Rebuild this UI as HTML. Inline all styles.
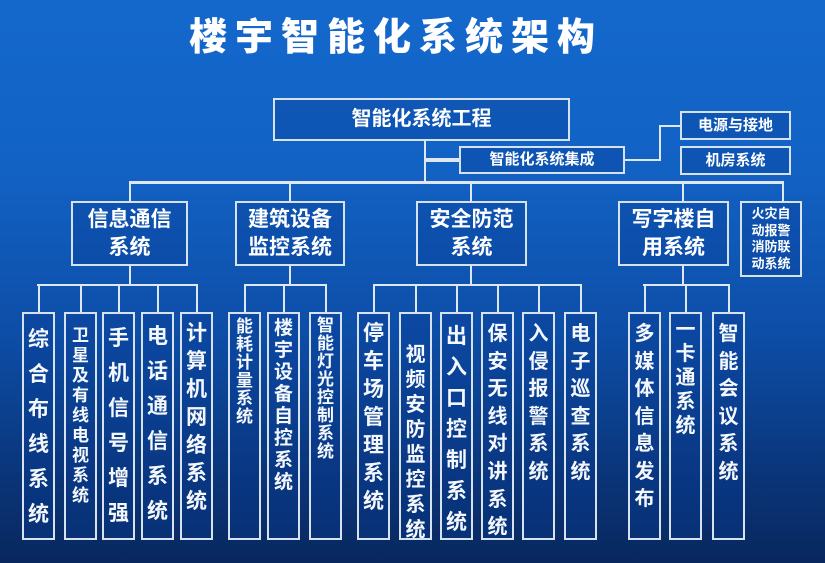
<!DOCTYPE html>
<html><head><meta charset="utf-8"><style>
body{margin:0;width:825px;height:563px;overflow:hidden;font-family:"Liberation Sans","Noto Sans CJK SC",sans-serif;}
#bg{position:absolute;left:0;top:0;width:825px;height:563px;background:linear-gradient(180deg,#1468cc 0%,#1262c4 30%,#0d4da6 60%,#0a3478 85%,#08285e 100%);}
.b{position:absolute;border:2px solid #d6e2ee;box-sizing:border-box;background:rgba(10,60,150,0.35);color:#fff;text-align:center;font-weight:bold;}
.l{position:absolute;background:#dfe8f2;}
.t{position:absolute;color:#f4f8fc;text-align:center;font-weight:bold;}
.title{position:absolute;left:186px;top:6px;width:420px;font-size:38px;font-weight:900;color:#fff;letter-spacing:8px;font-family:"Noto Sans CJK SC","Liberation Sans",sans-serif;text-align:center;}
</style></head><body>
<div id="bg"></div>
<div class="title">楼宇智能化系统架构</div>

<div class="b" style="left:273px;top:98px;width:297px;height:43px;font-size:20px;line-height:38px;">智能化系统工程</div>
<div class="b" style="left:459px;top:146px;width:166px;height:28px;font-size:15px;line-height:24px;">智能化系统集成</div>
<div class="b" style="left:680px;top:111px;width:111px;height:29px;font-size:15px;line-height:25px;">电源与接地</div>
<div class="b" style="left:680px;top:146px;width:111px;height:29px;font-size:15px;line-height:25px;">机房系统</div>

<div class="l" style="left:424px;top:141px;width:2px;height:42px;"></div>
<div class="l" style="left:424px;top:158px;width:35px;height:4px;"></div>
<div class="l" style="left:625px;top:159px;width:35px;height:2px;"></div>
<div class="l" style="left:659px;top:125px;width:2px;height:36px;"></div>
<div class="l" style="left:659px;top:125px;width:21px;height:2px;"></div>
<div class="l" style="left:129px;top:181px;width:655px;height:3px;"></div>
<div class="l" style="left:129px;top:181px;width:2px;height:20px;"></div>
<div class="l" style="left:289px;top:181px;width:2px;height:20px;"></div>
<div class="l" style="left:470px;top:181px;width:2px;height:20px;"></div>
<div class="l" style="left:682px;top:181px;width:2px;height:20px;"></div>
<div class="l" style="left:782px;top:181px;width:2px;height:20px;"></div>

<div class="b" style="left:71px;top:201px;width:117px;height:65px;font-size:21px;line-height:28px;padding-top:3px;">信息通信<br>系统</div>
<div class="b" style="left:235px;top:201px;width:110px;height:65px;font-size:21px;line-height:28px;padding-top:3px;">建筑设备<br>监控系统</div>
<div class="b" style="left:416px;top:201px;width:111px;height:65px;font-size:21px;line-height:28px;padding-top:3px;">安全防范<br>系统</div>
<div class="b" style="left:618px;top:201px;width:111px;height:65px;font-size:21px;line-height:28px;padding-top:3px;">写字楼自<br>用系统</div>
<div class="b" style="left:740px;top:201px;width:62px;height:76px;font-size:13px;line-height:16.5px;padding-top:3px;">火灾自<br>动报警<br>消防联<br>动系统</div>

<div class="l" style="left:129px;top:266px;width:2px;height:19px;"></div>
<div class="l" style="left:37px;top:284px;width:159px;height:2px;"></div>
<div class="l" style="left:289px;top:266px;width:2px;height:19px;"></div>
<div class="l" style="left:245px;top:284px;width:80px;height:2px;"></div>
<div class="l" style="left:470px;top:266px;width:2px;height:19px;"></div>
<div class="l" style="left:373px;top:284px;width:207px;height:2px;"></div>
<div class="l" style="left:682px;top:266px;width:2px;height:19px;"></div>
<div class="l" style="left:643px;top:284px;width:87px;height:2px;"></div>

<div id="leaves"></div>
<script>
var L=[
[22,"综合布线系统",340,35,21],
[64,"卫星及有线电视系统",336,20,17],
[102,"手机信号增强",339,35,21],
[141,"电话通信系统",337,35,21],
[180,"计算机网络系统",334,28,21],
[228,"能耗计量系统",327,18,17],
[267,"楼宇设备自控系统",329,22,19],
[309,"智能灯光控制系统",326,18,17],
[357,"停车场管理系统",334,28,21],
[399,"视频安防监控系统",355,25,20],
[440,"出入口控制系统",337,31,21],
[481,"保安无线对讲系统",334,27.6,20],
[522,"入侵报警系统",334,27.6,20],
[564,"电子巡查系统",334,27.6,20],
[628,"多媒体信息发布",334,27.5,20],
[669,"一卡通系统",330,24,20],
[712,"智能会议系统",334,27.6,20]];
var h="";
L.forEach(function(d){
 var x=d[0],w=33,c=x+w/2;
 h+='<div class="l" style="left:'+(c-1)+'px;top:284px;width:2px;height:28px;"></div>';
 h+='<div class="b" style="left:'+x+'px;top:312px;width:'+w+'px;height:228px;"></div>';
 for(var i=0;i<d[1].length;i++){
  var cy=d[2]+i*d[3];
  h+='<div class="t" style="left:'+(x)+'px;width:'+w+'px;top:'+(cy-d[4]*0.6)+'px;font-size:'+d[4]+'px;line-height:'+(d[4]*1.2)+'px;">'+d[1][i]+'</div>';
 }
});
document.getElementById("leaves").innerHTML=h;
</script>
</body></html>
